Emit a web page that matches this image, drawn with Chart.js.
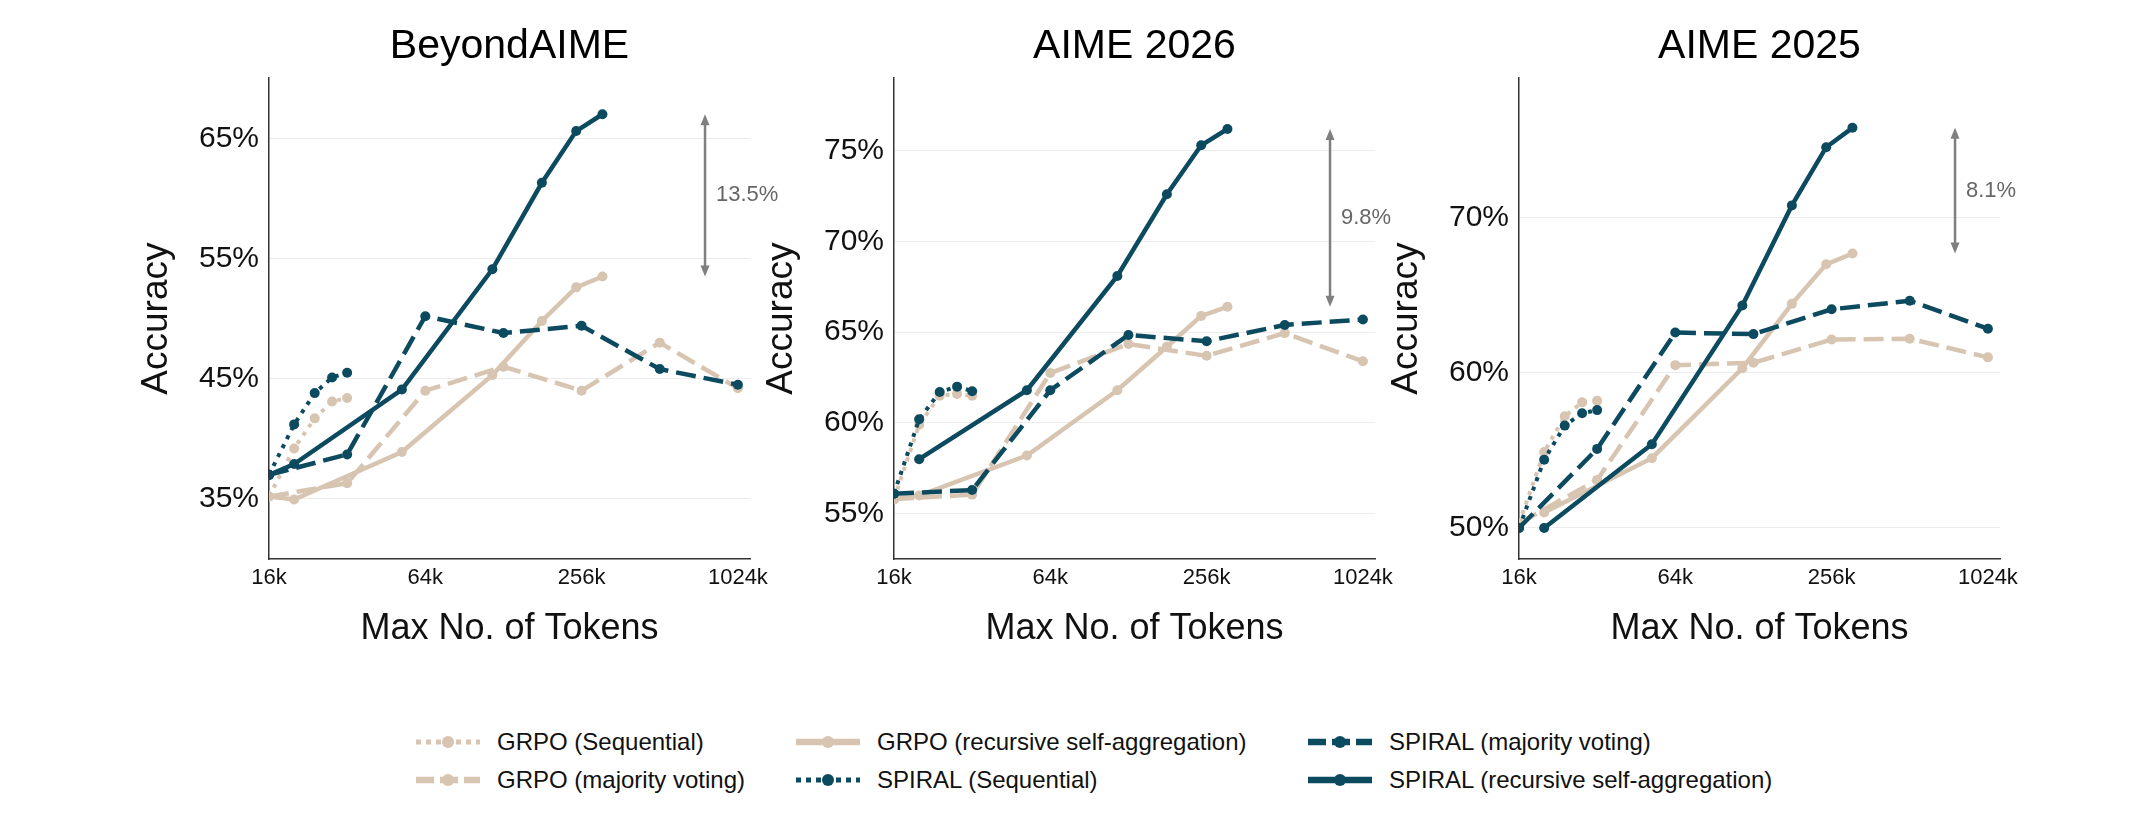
<!DOCTYPE html>
<html>
<head>
<meta charset="utf-8">
<title>Accuracy vs Max No. of Tokens</title>
<script src="https://cdn.jsdelivr.net/npm/chart.js@4.4.1/dist/chart.umd.min.js"></script>
<style>
 body { margin: 0; background: #fff; font-family: "Liberation Sans", Arial, sans-serif; }
 #page { position: relative; width: 2150px; height: 825px; overflow: hidden; background: #fff; }
 .panel { position: absolute; top: 0; }
 .key { position: absolute; height: 30px; display: flex; align-items: center; font-size: 24px; color: #111; white-space: nowrap; }
 .key canvas { margin-right: 17px; }
</style>
</head>
<body>
<div id="page">
 <canvas class="panel" id="c0" width="781" height="680"></canvas>
 <canvas class="panel" id="c1" width="781" height="680"></canvas>
 <canvas class="panel" id="c2" width="781" height="680"></canvas>
</div>

<script>
// ---- data (accuracy in %, tokens in k) ----
const titles = ['BeyondAIME', 'AIME 2026', 'AIME 2025'];
const seqTokens = [16, 20, 24, 28, 32];
const majTokens = [16, 32, 64, 128, 256, 512, 1024];
const recTokens = [16, 20, 52, 116, 180, 244, 308];
const xTicks = [16, 64, 256, 1024];

const grpoSeq = [
  [35.2, 39.2, 41.7, 43.1, 43.4],
  [55.8, 59.9, 61.5, 61.6, 61.5],
  [50.3, 54.9, 57.2, 58.1, 58.2]
];
const spiralSeq = [
  [37.0, 41.2, 43.8, 45.1, 45.5],
  [56.1, 60.2, 61.7, 62.0, 61.75],
  [50.0, 54.4, 56.6, 57.4, 57.6]
];
const grpoMaj = [
  [35.2, 36.3, 44.0, 46.0, 44.0, 48.0, 44.2],
  [55.8, 56.05, 62.75, 64.35, 63.7, 64.95, 63.4],
  [50.3, 53.1, 60.5, 60.65, 62.15, 62.2, 61.0]
];
const spiralMaj = [
  [37.0, 38.7, 50.2, 48.8, 49.4, 45.8, 44.5],
  [56.1, 56.3, 61.8, 64.85, 64.5, 65.4, 65.7],
  [50.0, 55.1, 62.6, 62.5, 64.1, 64.65, 62.85]
];
const grpoRec = [
  [35.2, 34.95, 38.9, 45.3, 49.8, 52.6, 53.5],
  [55.8, 56.0, 58.2, 61.8, 64.2, 65.9, 66.4],
  [null, 51.0, 54.5, 60.3, 64.45, 67.0, 67.7]
];
const spiralRec = [
  [37.0, 37.9, 44.1, 54.1, 61.3, 65.6, 67.0],
  [null, 58.0, 61.8, 68.1, 72.6, 75.3, 76.2],
  [null, 50.0, 55.4, 64.35, 70.8, 74.55, 75.8]
];
const yRange = [[30, 70], [52.5, 79], [48, 79]];
const yTicks = [[35, 45, 55, 65], [55, 60, 65, 70, 75], [50, 60, 70]];
const gapLabels = ['13.5%', '9.8%', '8.1%'];
const gapAt = 765;

// ---- styles ----
const BEIGE = '#d7c4b1';
const TEAL = '#0c4a60';
const STY = {
  seq: { w: 4, dash: [4, 6], lw: 5, ldash: [5, 5] },
  maj: { w: 4.5, dash: [20, 8], lw: 6.5, ldash: [18, 6] },
  rec: { w: 4.5, dash: [], lw: 6.5, ldash: [] }
};
const FONT = '"Liberation Sans", Arial, sans-serif';
Chart.defaults.font.family = FONT;
Chart.defaults.color = '#111';

const plotLeft = [269, 894, 1519];

function series(label, xs, ys, color, st, order) {
  return {
    label: label,
    data: xs.map(function (x, i) { return { x: x, y: ys[i] }; }),
    borderColor: color, backgroundColor: color,
    borderWidth: STY[st].w, borderDash: STY[st].dash,
    pointRadius: 5, pointHoverRadius: 5, pointBorderWidth: 0,
    tension: 0, spanGaps: false, order: order
  };
}

// double arrow + label between the two recursive maxima
const gapArrow = {
  id: 'gapArrow',
  afterDatasetsDraw(chart, args, opts) {
    const ctx = chart.ctx, x = chart.scales.x, y = chart.scales.y;
    const px = x.getPixelForValue(opts.at);
    const yTop = y.getPixelForValue(opts.hi);
    const yBot = y.getPixelForValue(opts.lo);
    ctx.save();
    ctx.strokeStyle = '#7f7f7f';
    ctx.fillStyle = '#7f7f7f';
    ctx.lineWidth = 2.5;
    ctx.beginPath();
    ctx.moveTo(px, yTop + 8);
    ctx.lineTo(px, yBot - 8);
    ctx.stroke();
    ctx.beginPath();
    ctx.moveTo(px, yTop); ctx.lineTo(px - 4.5, yTop + 11); ctx.lineTo(px + 4.5, yTop + 11);
    ctx.closePath(); ctx.fill();
    ctx.beginPath();
    ctx.moveTo(px, yBot); ctx.lineTo(px - 4.5, yBot - 11); ctx.lineTo(px + 4.5, yBot - 11);
    ctx.closePath(); ctx.fill();
    ctx.fillStyle = '#666';
    ctx.font = '22px ' + FONT;
    ctx.textAlign = 'left';
    ctx.textBaseline = 'middle';
    ctx.fillText(opts.label, px + 11, (yTop + yBot) / 2);
    ctx.restore();
  }
};

for (let p = 0; p < 3; p++) {
  const cv = document.getElementById('c' + p);
  cv.style.left = (plotLeft[p] - 150) + 'px';
  const hi = Math.max.apply(null, spiralRec[p].filter(function (v) { return v !== null; }));
  const lo = Math.max.apply(null, grpoRec[p].filter(function (v) { return v !== null; }));
  new Chart(cv, {
    type: 'line',
    data: {
      datasets: [
        series('SPIRAL (recursive self-aggregation)', recTokens, spiralRec[p], TEAL, 'rec', 0),
        series('SPIRAL (majority voting)', majTokens, spiralMaj[p], TEAL, 'maj', 1),
        series('SPIRAL (Sequential)', seqTokens, spiralSeq[p], TEAL, 'seq', 2),
        series('GRPO (recursive self-aggregation)', recTokens, grpoRec[p], BEIGE, 'rec', 3),
        series('GRPO (majority voting)', majTokens, grpoMaj[p], BEIGE, 'maj', 4),
        series('GRPO (Sequential)', seqTokens, grpoSeq[p], BEIGE, 'seq', 5)
      ]
    },
    options: {
      responsive: false,
      animation: false,
      events: [],
      layout: { padding: 0 },
      plugins: {
        legend: { display: false },
        tooltip: { enabled: false },
        title: {
          display: true, text: titles[p], color: '#000',
          font: { size: 41, weight: 'normal' },
          padding: { top: 22, bottom: 7 }
        },
        gapArrow: { at: gapAt, hi: hi, lo: lo, label: gapLabels[p] }
      },
      scales: {
        x: {
          type: 'logarithmic', min: 16, max: 1140,
          grid: { display: false, drawTicks: false },
          border: { display: true, color: '#333', width: 1.5 },
          afterBuildTicks: function (s) { s.ticks = xTicks.map(function (v) { return { value: v }; }); },
          afterFit: function (s) { s.height = 121; },
          ticks: {
            autoSkip: false, maxRotation: 0, padding: 6, color: '#111',
            font: { size: 22 },
            callback: function (v) { return v + 'k'; }
          },
          title: {
            display: true, text: 'Max No. of Tokens', color: '#111',
            font: { size: 36 }, padding: { top: 0, bottom: 29 }
          }
        },
        y: {
          min: yRange[p][0], max: yRange[p][1],
          afterBuildTicks: function (s) { s.ticks = yTicks[p].map(function (v) { return { value: v }; }); },
          afterFit: function (s) { s.width = 150; },
          grid: { color: '#ececec', lineWidth: 1, drawTicks: false },
          border: { display: true, color: '#333', width: 1.5 },
          ticks: {
            padding: 10, color: '#111', font: { size: 30 },
            callback: function (v) { return v + '%'; }
          },
          title: {
            display: true, text: 'Accuracy', color: '#111',
            font: { size: 37 }, padding: { top: 16, bottom: 0 }
          }
        },
        // empty right-hand box, same width as the y axis, so the title centres over the plot
        spacer: {
          type: 'linear', position: 'right',
          grid: { display: false, drawTicks: false },
          border: { display: false },
          ticks: { display: false },
          afterFit: function (s) { s.width = 150; }
        }
      }
    },
    plugins: [gapArrow]
  });
}

// ---- shared legend below the panels ----
const legendItems = [
  { label: 'GRPO (Sequential)', color: BEIGE, st: 'seq', col: 0, row: 0 },
  { label: 'GRPO (majority voting)', color: BEIGE, st: 'maj', col: 0, row: 1 },
  { label: 'GRPO (recursive self-aggregation)', color: BEIGE, st: 'rec', col: 1, row: 0 },
  { label: 'SPIRAL (Sequential)', color: TEAL, st: 'seq', col: 1, row: 1 },
  { label: 'SPIRAL (majority voting)', color: TEAL, st: 'maj', col: 2, row: 0 },
  { label: 'SPIRAL (recursive self-aggregation)', color: TEAL, st: 'rec', col: 2, row: 1 }
];
const colX = [416, 796, 1308];
const rowY = [727, 765];
const page = document.getElementById('page');
legendItems.forEach(function (it) {
  const d = document.createElement('div');
  d.className = 'key';
  d.style.left = colX[it.col] + 'px';
  d.style.top = rowY[it.row] + 'px';
  const c = document.createElement('canvas');
  c.width = 64; c.height = 20;
  const g = c.getContext('2d');
  g.strokeStyle = it.color; g.fillStyle = it.color;
  g.lineWidth = STY[it.st].lw;
  g.setLineDash(STY[it.st].ldash);
  g.beginPath(); g.moveTo(0, 10); g.lineTo(64, 10); g.stroke();
  g.setLineDash([]);
  g.beginPath(); g.arc(32, 10, 6, 0, 2 * Math.PI); g.fill();
  const t = document.createElement('span');
  t.textContent = it.label;
  d.appendChild(c); d.appendChild(t);
  page.appendChild(d);
});
</script>
</body>
</html>
